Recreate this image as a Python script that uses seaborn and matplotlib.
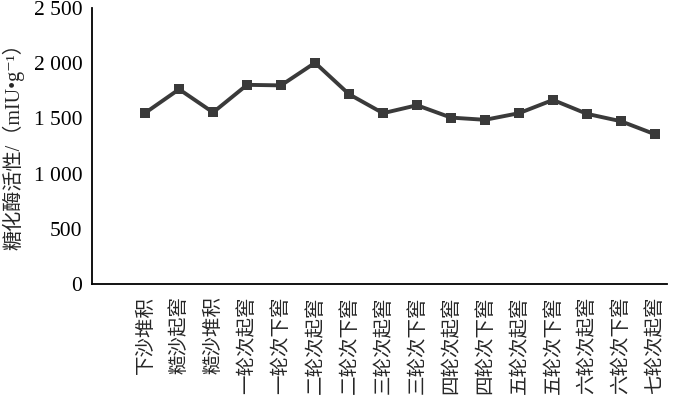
import matplotlib
matplotlib.use("Agg")
import matplotlib.pyplot as plt
import seaborn as sns
import pandas as pd

# stages of the brewing process and glucoamylase activity
stages = ["下沙堆积", "糙沙起窖", "糙沙堆积", "一轮次起窖", "一轮次下窖", "二轮次起窖",
          "二轮次下窖", "三轮次起窖", "三轮次下窖", "四轮次起窖", "四轮次下窖",
          "五轮次起窖", "五轮次下窖", "六轮次起窖", "六轮次下窖", "七轮次起窖"]
activity = [1550, 1765, 1555, 1805, 1800, 2005, 1720, 1548, 1620, 1508, 1488,
            1548, 1668, 1542, 1475, 1357]
y_ticks = [0, 500, 1000, 1500, 2000, 2500]
y_tick_labels = ["0", "500", "1 000", "1 500", "2 000", "2 500"]

sns.set_style("white")
plt.rcParams["font.family"] = ["Liberation Serif", "Noto Sans CJK SC", "DejaVu Sans"]

df = pd.DataFrame({"pos": range(len(stages)), "activity": activity})

fig = plt.figure(figsize=(6.77, 4.08), dpi=100)
ax = fig.add_axes([0.136, 0.304, 0.849, 0.676])

sns.lineplot(data=df, x="pos", y="activity", ax=ax, color="#3a3a3a",
             linewidth=2.8, marker="s", markersize=6.5, markeredgewidth=0,
             sort=False)

ax.set_xlim(-1.56, 15.35)
ax.set_ylim(0, 2500)
ax.set_yticks(y_ticks)
ax.set_yticklabels(y_tick_labels, fontsize=15.5)
ax.set_xticks(range(len(stages)))
ax.set_xticklabels(stages, rotation=90, fontsize=14,
                   family=["Noto Sans CJK SC"], va="top")
ax.tick_params(axis="y", direction="in", length=6, width=1.2, pad=7, colors="black")
ax.tick_params(axis="x", length=0, pad=9)

ax.set_xlabel("")
ax.set_ylabel("糖化酶活性/（mIU•g⁻¹）", fontsize=14.5,
              family=["Liberation Serif", "Noto Sans CJK SC", "DejaVu Sans"])
ax.yaxis.set_label_coords(-0.118, 0.515)

sns.despine(ax=ax)
for s in ["left", "bottom"]:
    ax.spines[s].set_color("black")
    ax.spines[s].set_linewidth(1.3)

fig.savefig("out.png", dpi=100)
